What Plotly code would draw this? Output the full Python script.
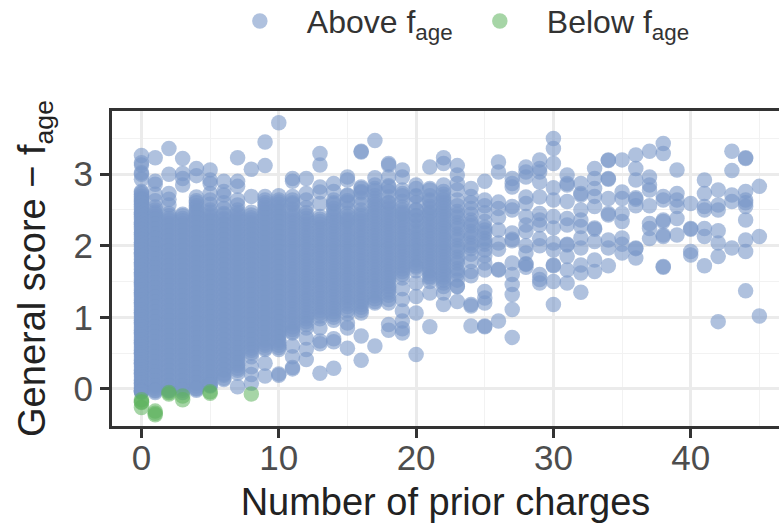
import plotly.graph_objects as go

above = {
0: [3.26,3.16,3.13,3.02,3.0,2.93,2.76,2.72,2.66,2.62,2.58,2.52,2.47,2.44,2.38,2.33,2.3,2.24,2.19,2.16,2.1,2.05,2.02,1.96,1.91,1.88,1.82,1.77,1.74,1.68,1.63,1.6,1.54,1.49,1.46,1.4,1.35,1.32,1.26,1.21,1.18,1.12,1.07,1.04,0.98,0.93,0.9,0.84,0.79,0.76,0.7,0.65,0.62,0.56,0.51,0.48,0.42,0.37,0.34,0.28,0.23,0.2,0.14,0.09,0.06,0.01,-0.03,-0.05],
1: [3.23,2.9,2.86,2.72,2.63,2.54,2.47,2.41,2.34,2.27,2.2,2.13,2.06,1.99,1.93,1.86,1.79,1.72,1.65,1.58,1.51,1.44,1.38,1.31,1.24,1.17,1.1,1.03,0.96,0.89,0.83,0.76,0.69,0.62,0.55,0.48,0.41,0.34,0.28,0.21,0.14,0.07,0.01,-0.05],
2: [3.36,3.0,2.73,2.65,2.57,2.45,2.38,2.31,2.24,2.17,2.1,2.03,1.96,1.89,1.82,1.75,1.68,1.61,1.54,1.47,1.4,1.33,1.26,1.19,1.12,1.05,0.98,0.91,0.84,0.77,0.7,0.63,0.56,0.49,0.42,0.35,0.28,0.21,0.14,0.07,0.0,-0.03],
3: [3.22,3.01,2.94,2.85,2.44,2.38,2.31,2.24,2.17,2.1,2.03,1.96,1.89,1.82,1.75,1.68,1.61,1.54,1.47,1.4,1.33,1.26,1.19,1.12,1.05,0.98,0.91,0.84,0.77,0.7,0.63,0.56,0.49,0.42,0.35,0.28,0.21,0.14,0.07,0.01,-0.05],
4: [3.08,2.98,2.68,2.63,2.56,2.49,2.42,2.35,2.28,2.21,2.14,2.07,2.0,1.93,1.86,1.79,1.72,1.65,1.58,1.51,1.44,1.37,1.3,1.23,1.16,1.09,1.02,0.95,0.88,0.81,0.74,0.67,0.6,0.53,0.46,0.39,0.32,0.25,0.18,0.11,0.04,-0.02],
5: [3.06,2.92,2.87,2.73,2.64,2.58,2.5,2.43,2.36,2.29,2.22,2.15,2.08,2.01,1.94,1.87,1.8,1.73,1.66,1.59,1.52,1.45,1.38,1.31,1.24,1.17,1.1,1.03,0.96,0.89,0.82,0.75,0.68,0.61,0.54,0.47,0.4,0.33,0.26,0.19,0.12,0.05,0.04],
6: [2.9,2.76,2.71,2.6,2.52,2.45,2.38,2.31,2.24,2.17,2.1,2.03,1.96,1.89,1.82,1.75,1.68,1.61,1.54,1.47,1.4,1.33,1.26,1.19,1.12,1.05,0.98,0.91,0.84,0.77,0.7,0.63,0.56,0.49,0.42,0.35,0.28,0.21,0.15],
7: [3.23,2.9,2.83,2.64,2.57,2.5,2.43,2.36,2.29,2.22,2.15,2.08,2.01,1.94,1.87,1.8,1.73,1.66,1.59,1.52,1.45,1.38,1.31,1.24,1.17,1.1,1.03,0.96,0.89,0.82,0.75,0.68,0.61,0.54,0.47,0.4,0.33,0.26,0.03],
8: [3.07,2.69,2.47,2.39,2.32,2.25,2.18,2.11,2.04,1.97,1.9,1.83,1.76,1.69,1.62,1.55,1.48,1.41,1.34,1.27,1.2,1.13,1.06,0.99,0.92,0.85,0.78,0.71,0.64,0.57,0.45,0.31,0.2,0.08],
9: [3.45,3.12,2.69,2.64,2.57,2.5,2.43,2.36,2.29,2.22,2.15,2.08,2.01,1.94,1.87,1.8,1.73,1.66,1.59,1.52,1.45,1.38,1.31,1.24,1.17,1.1,1.03,0.96,0.89,0.82,0.75,0.68,0.61,0.55,0.36,0.18],
10: [3.72,2.7,2.64,2.58,2.5,2.43,2.36,2.29,2.22,2.15,2.08,2.01,1.94,1.87,1.8,1.73,1.66,1.59,1.52,1.45,1.38,1.31,1.24,1.17,1.1,1.03,0.96,0.89,0.82,0.75,0.68,0.61,0.55,0.21,0.19],
11: [2.94,2.9,2.69,2.64,2.6,2.51,2.43,2.35,2.27,2.19,2.11,2.03,1.95,1.87,1.79,1.71,1.63,1.55,1.47,1.39,1.31,1.23,1.15,1.07,0.99,0.91,0.83,0.78,0.6,0.45,0.3,0.28],
12: [2.94,2.73,2.64,2.53,2.46,2.38,2.3,2.22,2.14,2.06,1.98,1.9,1.82,1.74,1.66,1.58,1.5,1.42,1.34,1.26,1.18,1.1,1.02,0.94,0.85,0.71,0.55,0.41],
13: [3.29,3.13,2.82,2.75,2.59,2.41,2.34,2.26,2.18,2.1,2.02,1.94,1.86,1.78,1.7,1.62,1.54,1.46,1.38,1.3,1.22,1.14,1.06,0.98,0.85,0.67,0.63,0.22],
14: [2.87,2.76,2.64,2.6,2.52,2.44,2.36,2.28,2.2,2.12,2.04,1.96,1.88,1.8,1.72,1.64,1.56,1.48,1.4,1.32,1.24,1.16,1.08,1.0,0.96,0.7,0.66,0.29],
15: [2.96,2.92,2.71,2.63,2.41,2.35,2.27,2.19,2.11,2.03,1.95,1.87,1.79,1.71,1.63,1.55,1.47,1.39,1.31,1.23,1.15,1.05,0.92,0.85,0.57],
16: [3.31,3.32,2.8,2.76,2.45,2.38,2.3,2.22,2.14,2.06,1.98,1.9,1.82,1.74,1.66,1.58,1.5,1.42,1.34,1.26,1.18,1.1,1.06,0.74,0.4],
17: [3.47,2.95,2.8,2.66,2.58,2.5,2.42,2.34,2.26,2.18,2.1,2.02,1.94,1.86,1.78,1.7,1.62,1.54,1.46,1.38,1.3,1.22,1.2,0.6],
18: [3.15,3.13,2.96,2.82,2.6,2.55,2.47,2.39,2.31,2.23,2.15,2.07,1.99,1.91,1.83,1.75,1.67,1.59,1.51,1.43,1.35,1.25,1.2,0.9,0.82],
19: [3.06,2.96,2.73,2.5,2.44,2.36,2.28,2.2,2.12,2.04,1.96,1.88,1.8,1.72,1.64,1.55,1.4,1.25,1.09,0.95,0.84,0.78],
20: [2.85,2.69,2.5,2.42,2.36,2.28,2.2,2.12,2.04,1.96,1.88,1.8,1.72,1.65,1.48,1.29,1.06,0.48],
21: [3.1,2.78,2.64,2.52,2.45,2.37,2.29,2.21,2.13,2.05,1.97,1.89,1.81,1.73,1.65,1.57,1.5,1.34,0.87],
22: [3.23,3.15,2.85,2.76,2.68,2.6,2.52,2.44,2.36,2.28,2.2,2.12,2.04,1.96,1.88,1.8,1.72,1.64,1.56,1.48,1.43,1.34,1.18],
23: [3.12,2.99,2.87,2.78,2.64,2.56,2.48,2.4,2.32,2.24,2.16,2.08,2.0,1.92,1.84,1.76,1.68,1.6,1.52,1.43,1.43,1.22],
24: [2.8,2.69,2.6,2.52,2.44,2.36,2.28,2.2,2.12,2.04,1.96,1.88,1.78,1.64,1.58,1.18,1.16,0.88],
25: [2.9,2.64,2.56,2.46,2.34,2.26,2.18,2.1,2.02,1.94,1.86,1.76,1.66,1.36,1.27,1.2,0.88,0.87],
26: [3.17,3.03,2.61,2.52,2.4,2.22,2.04,1.95,1.67,1.66,0.95],
27: [2.94,2.87,2.82,2.55,2.5,2.18,2.09,2.07,1.76,1.6,1.46,1.32,1.11,0.72],
28: [3.1,2.96,3.03,2.68,2.59,2.41,2.29,2.0,1.9,1.75,1.74,1.7,2.2],
29: [3.2,3.08,3.03,2.89,2.68,2.45,2.36,2.29,2.1,2.0,1.6,1.53,1.48],
30: [3.5,3.36,3.15,2.81,2.64,2.41,2.25,2.04,1.94,1.73,1.72,1.5,1.18],
31: [2.99,2.87,2.85,2.62,2.38,2.29,2.02,2.01,1.85,1.66,1.48],
32: [2.87,2.73,2.71,2.5,2.36,2.27,2.11,1.97,1.73,1.62,1.35],
33: [3.08,2.94,2.8,2.69,2.55,2.25,2.23,2.06,1.8,1.64],
34: [3.19,3.2,2.94,2.93,2.66,2.45,2.43,2.08,1.97,1.72],
35: [3.2,2.75,2.66,2.45,2.34,2.11,2.02,1.9],
36: [3.27,3.08,2.92,2.67,2.65,2.56,1.96,1.97,1.83],
37: [3.32,2.96,2.85,2.78,2.56,2.31,2.24,2.1],
38: [3.43,3.29,2.69,2.64,2.36,2.34,2.15,2.13,1.7,1.71],
39: [3.06,2.73,2.64,2.55,2.38,2.15],
40: [2.59,2.24,2.23,1.92,1.87],
41: [2.92,2.73,2.55,2.5,2.24,2.13,1.72],
42: [2.78,2.57,2.5,2.21,2.04,1.85,0.94],
43: [3.32,3.05,2.71,2.62,1.97],
44: [3.23,3.22,2.76,2.64,2.6,2.55,2.36,2.08,1.92,1.37],
45: [2.83,2.13,1.02],
}
# further records inside the solid band of each column
above_core = {
0: [2.74,2.69,2.64,2.6,2.55,2.5,2.45,2.41,2.36,2.31,2.27,2.22,2.18,2.13,2.08,2.04,1.99,1.94,1.9,1.85,1.8,1.76,1.71,1.66,1.62,1.57,1.52,1.48,1.43,1.38,1.34,1.29,1.24,1.2,1.15,1.1,1.06,1.01,0.96,0.92,0.87,0.82,0.78,0.73,0.68,0.64,0.59,0.54,0.5,0.45,0.4,0.36,0.31,0.26,0.22,0.17,0.12,0.08,0.03,-0.02,-0.04,-0.03],
1: [2.5,2.44,2.37,2.3,2.23,2.16,2.1,2.03,1.96,1.89,1.82,1.75,1.69,1.62,1.55,1.48,1.41,1.34,1.28,1.21,1.14,1.07,1.0,0.93,0.87,0.8,0.73,0.66,0.59,0.52,0.45,0.38,0.31,0.24,0.18,0.11,0.04,-0.02,-0.03],
2: [2.42,2.35,2.28,2.21,2.14,2.07,2.0,1.93,1.86,1.79,1.72,1.65,1.58,1.51,1.44,1.37,1.3,1.23,1.16,1.09,1.02,0.95,0.88,0.81,0.74,0.67,0.6,0.53,0.46,0.39,0.32,0.25,0.18,0.11,0.04,-0.02],
3: [2.42,2.35,2.28,2.21,2.14,2.07,2.0,1.93,1.86,1.79,1.72,1.65,1.58,1.51,1.44,1.37,1.3,1.23,1.16,1.09,1.02,0.95,0.88,0.81,0.74,0.67,0.6,0.53,0.46,0.39,0.32,0.25,0.18,0.11,0.04,-0.02],
4: [2.6,2.53,2.46,2.39,2.32,2.25,2.18,2.11,2.04,1.97,1.9,1.83,1.76,1.69,1.62,1.55,1.48,1.41,1.34,1.27,1.2,1.13,1.06,0.99,0.92,0.85,0.78,0.71,0.64,0.57,0.5,0.43,0.36,0.29,0.22,0.15,0.08,0.01,0.0],
5: [2.47,2.4,2.33,2.26,2.19,2.12,2.05,1.98,1.91,1.84,1.77,1.7,1.63,1.56,1.49,1.42,1.35,1.28,1.21,1.14,1.07,1.0,0.93,0.86,0.79,0.72,0.65,0.58,0.51,0.44,0.37,0.3,0.23,0.16,0.09,0.06],
6: [2.43,2.36,2.29,2.22,2.15,2.08,2.01,1.94,1.87,1.8,1.73,1.66,1.59,1.52,1.45,1.38,1.31,1.24,1.17,1.1,1.03,0.96,0.89,0.82,0.75,0.68,0.61,0.54,0.47,0.4,0.33,0.26,0.19,0.13],
7: [2.46,2.39,2.32,2.25,2.18,2.11,2.04,1.97,1.9,1.83,1.76,1.69,1.62,1.55,1.48,1.41,1.34,1.27,1.2,1.13,1.06,0.99,0.92,0.85,0.78,0.71,0.64,0.57,0.5,0.43,0.36,0.29,0.22],
8: [2.43,2.36,2.29,2.22,2.15,2.08,2.01,1.94,1.87,1.8,1.73,1.66,1.59,1.52,1.45,1.38,1.31,1.24,1.17,1.1,1.03,0.96,0.89,0.82,0.75,0.68,0.61,0.54,0.5],
9: [2.6,2.53,2.46,2.39,2.32,2.25,2.18,2.11,2.04,1.97,1.9,1.83,1.76,1.69,1.62,1.55,1.48,1.41,1.34,1.27,1.2,1.13,1.06,0.99,0.92,0.85,0.78,0.71,0.64,0.57],
10: [2.61,2.54,2.47,2.4,2.33,2.26,2.19,2.12,2.05,1.98,1.91,1.84,1.77,1.7,1.63,1.56,1.49,1.42,1.35,1.28,1.21,1.14,1.07,1.0,0.93,0.86,0.79,0.72,0.65,0.58],
11: [2.58,2.47,2.39,2.31,2.23,2.15,2.07,1.99,1.91,1.83,1.75,1.67,1.59,1.51,1.43,1.35,1.27,1.19,1.11,1.03,0.95,0.87,0.8],
12: [2.42,2.34,2.26,2.18,2.1,2.02,1.94,1.86,1.78,1.7,1.62,1.54,1.46,1.38,1.3,1.22,1.14,1.06,0.98,0.9],
13: [2.37,2.3,2.22,2.14,2.06,1.98,1.9,1.82,1.74,1.66,1.58,1.5,1.42,1.34,1.26,1.18,1.1,1.02],
14: [2.58,2.48,2.4,2.32,2.24,2.16,2.08,2.0,1.92,1.84,1.76,1.68,1.6,1.52,1.44,1.36,1.28,1.2,1.12,1.04],
15: [2.7,2.6,2.52,2.45,2.37,2.31,2.23,2.15,2.07,1.99,1.91,1.83,1.75,1.67,1.59,1.51,1.43,1.35,1.27,1.19,1.1],
16: [2.82,2.74,2.66,2.58,2.5,2.42,2.34,2.26,2.18,2.1,2.02,1.94,1.86,1.78,1.7,1.62,1.54,1.46,1.38,1.3,1.22,1.14],
17: [2.85,2.77,2.7,2.62,2.54,2.46,2.38,2.3,2.22,2.14,2.06,1.98,1.9,1.82,1.74,1.66,1.58,1.5,1.42,1.34,1.26],
18: [2.84,2.76,2.68,2.6,2.51,2.43,2.35,2.27,2.19,2.11,2.03,1.95,1.87,1.79,1.71,1.63,1.55,1.47,1.39,1.31],
19: [2.78,2.7,2.62,2.54,2.46,2.4,2.32,2.24,2.16,2.08,2.0,1.92,1.84,1.76,1.68,1.6],
20: [2.8,2.7,2.6,2.5,2.42,2.34,2.24,2.16,2.08,2.0,1.92,1.84,1.76,1.7],
21: [2.8,2.7,2.62,2.55,2.47,2.41,2.33,2.25,2.17,2.09,2.01,1.93,1.85,1.77,1.69,1.61,1.55],
22: [2.72,2.64,2.56,2.48,2.4,2.32,2.24,2.16,2.08,2.0,1.92,1.84,1.76,1.68,1.6,1.52],
23: [2.44,2.28,2.12,1.96,1.8,1.64],
24: [2.32,2.16,2.0],
25: [2.22,2.06],
}
below = {
0: [-0.15,-0.19,-0.18,-0.26],
1: [-0.31,-0.34,-0.36],
2: [-0.07,-0.05],
3: [-0.1,-0.15],
5: [-0.06,-0.04],
8: [-0.07],
}

x_ticks = [0, 10, 20, 30, 40]
y_ticks = [0, 1, 2, 3]
x_title = "Number of prior charges"
y_title = "General score − f<sub>age</sub>"
above_name = "Above f<sub>age</sub>"
below_name = "Below f<sub>age</sub>"

FONT = "Liberation Sans"
ax_x = [k for k, v in above.items() for _ in v] + [k for k, v in above_core.items() for _ in v]
ax_y = [y for v in above.values() for y in v] + [y for v in above_core.values() for y in v]
bx_x = [k for k, v in below.items() for _ in v]
bx_y = [y for v in below.values() for y in v]

fig = go.Figure()
fig.add_trace(go.Scatter(x=ax_x, y=ax_y, mode="markers", name=above_name, legend="legend",
                         marker=dict(size=15.5, color="#7A97C8", opacity=0.6, line=dict(width=0))))
fig.add_trace(go.Scatter(x=bx_x, y=bx_y, mode="markers", name=below_name, legend="legend2",
                         marker=dict(size=15.5, color="#5DB25D", opacity=0.55, line=dict(width=0))))

legend_common = dict(orientation="h", bgcolor="rgba(0,0,0,0)", itemwidth=84,
                     itemsizing="trace", xanchor="left", yanchor="middle", yref="container",
                     font=dict(family=FONT, size=32, color="#333333"))
fig.update_layout(
    width=779, height=529,
    margin=dict(l=111.5, r=0, t=110.5, b=102.5),
    paper_bgcolor="white", plot_bgcolor="white",
    font=dict(family=FONT),
    showlegend=True,
    legend=dict(x=0.1512, y=0.96, **legend_common),
    legend2=dict(x=0.511, y=0.96, **legend_common),
    xaxis=dict(
        range=[-2.147, 46.43], tickvals=x_ticks, ticks="outside", ticklen=9, tickwidth=3, tickcolor="#333333",
        tickfont=dict(size=35, color="#4D4D4D", family=FONT), ticklabelstandoff=-10,
        title=dict(text=x_title, font=dict(size=38, color="#222222", family=FONT), standoff=13),
        showgrid=True, gridcolor="#EBEBEB", gridwidth=3, zeroline=False,
        minor=dict(tickvals=[5, 15, 25, 35, 45], showgrid=True, gridcolor="#F2F2F2", gridwidth=1),
        showline=True, linecolor="#333333", linewidth=3, mirror=True,
    ),
    yaxis=dict(
        range=[-0.518, 3.883], tickvals=y_ticks, ticks="outside", ticklen=9, tickwidth=3, tickcolor="#333333",
        tickfont=dict(size=35, color="#4D4D4D", family=FONT),
        title=dict(text=y_title, font=dict(size=38, color="#222222", family=FONT), standoff=17),
        showgrid=True, gridcolor="#EBEBEB", gridwidth=3, zeroline=False,
        minor=dict(tickvals=[0.5, 1.5, 2.5, 3.5], showgrid=True, gridcolor="#F2F2F2", gridwidth=1),
        showline=True, linecolor="#333333", linewidth=3,
    ),
)
fig.write_html("out.html", config=dict(displayModeBar=False),
               post_script="document.body.style.margin='0';document.documentElement.style.overflow='hidden';")
